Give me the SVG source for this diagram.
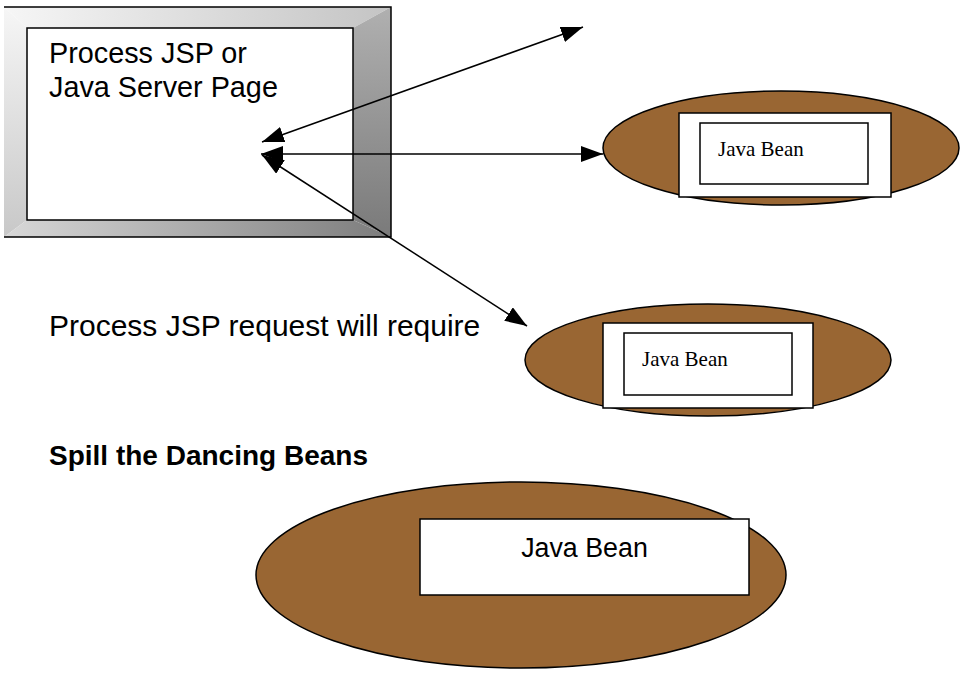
<svg xmlns="http://www.w3.org/2000/svg" width="960" height="675" viewBox="0 0 960 675">
<style>
.sans{font-family:"Liberation Sans",Arial,sans-serif;fill:#000}
.serif{font-family:"Liberation Serif","Times New Roman",serif;fill:#000}
.bean{fill:#996633;stroke:#000;stroke-width:1.5}
.box{fill:#fff;stroke:#000;stroke-width:1.5}
.conn{stroke:#000;stroke-width:1.5;fill:none;marker-start:url(#ah);marker-end:url(#ah)}
</style>
<defs>
<marker id="ah" viewBox="0 0 22 16" refX="22" refY="8" markerWidth="22" markerHeight="16" markerUnits="userSpaceOnUse" orient="auto-start-reverse">
<path d="M0,0 L22,8 L0,16 z" fill="#000"/>
</marker>
<linearGradient id="gTop" x1="0" y1="0" x2="1" y2="0"><stop offset="0" stop-color="#f6f6f6"/><stop offset="1" stop-color="#c4c4c4"/></linearGradient>
<linearGradient id="gLeft" x1="0" y1="0" x2="0" y2="1"><stop offset="0" stop-color="#f6f6f6"/><stop offset="1" stop-color="#c8c8c8"/></linearGradient>
<linearGradient id="gRight" x1="0" y1="0" x2="0" y2="1"><stop offset="0" stop-color="#b0b0b0"/><stop offset="1" stop-color="#7a7a7a"/></linearGradient>
<linearGradient id="gBottom" x1="0" y1="0" x2="1" y2="0"><stop offset="0" stop-color="#d8d8d8"/><stop offset="1" stop-color="#7c7c7c"/></linearGradient>
</defs>
<g id="jsp-page">
<polygon points="4,7 391,7 353,28 27,28" fill="url(#gTop)"/>
<polygon points="4,7 27,28 27,220 4,237" fill="url(#gLeft)"/>
<polygon points="391,7 391,237 353,220 353,28" fill="url(#gRight)"/>
<polygon points="4,237 27,220 353,220 391,237" fill="url(#gBottom)"/>
<path d="M4,7 H391 V237 H4" fill="none" stroke="#000" stroke-width="1.5"/>
<rect x="27" y="28" width="326" height="192" class="box"/>
<text class="sans" x="49" y="63" font-size="28.8">Process JSP or</text>
<text class="sans" x="49" y="97" font-size="28.8">Java Server Page</text>
</g>
<g id="bean-top">
<ellipse cx="781" cy="148" rx="178" ry="57" class="bean"/>
<rect x="679" y="113" width="212" height="84" class="box"/>
<rect x="700" y="123" width="168" height="61" class="box"/>
<text class="serif" x="718" y="156" font-size="21">Java Bean</text>
</g>
<g id="bean-middle">
<ellipse cx="708" cy="360" rx="183" ry="56" class="bean"/>
<rect x="603" y="323" width="210" height="85" class="box"/>
<rect x="624" y="333" width="168" height="62" class="box"/>
<text class="serif" x="642" y="366" font-size="21">Java Bean</text>
</g>
<g id="bean-bottom">
<ellipse cx="521" cy="575" rx="265" ry="93" class="bean"/>
<rect x="420" y="519" width="329" height="76" class="box"/>
<text class="sans" x="584.5" y="557" font-size="26.8" text-anchor="middle">Java Bean</text>
</g>
<g id="labels">
<text class="sans" x="49" y="336" font-size="30">Process JSP request will require</text>
<text class="sans" x="49" y="465" font-size="28" font-weight="bold">Spill the Dancing Beans</text>
</g>
<g id="connectors">
<line x1="262" y1="142" x2="583" y2="27" class="conn"/>
<line x1="261" y1="154" x2="603" y2="154" class="conn"/>
<line x1="262" y1="155" x2="527" y2="326" class="conn"/>
</g>
</svg>
